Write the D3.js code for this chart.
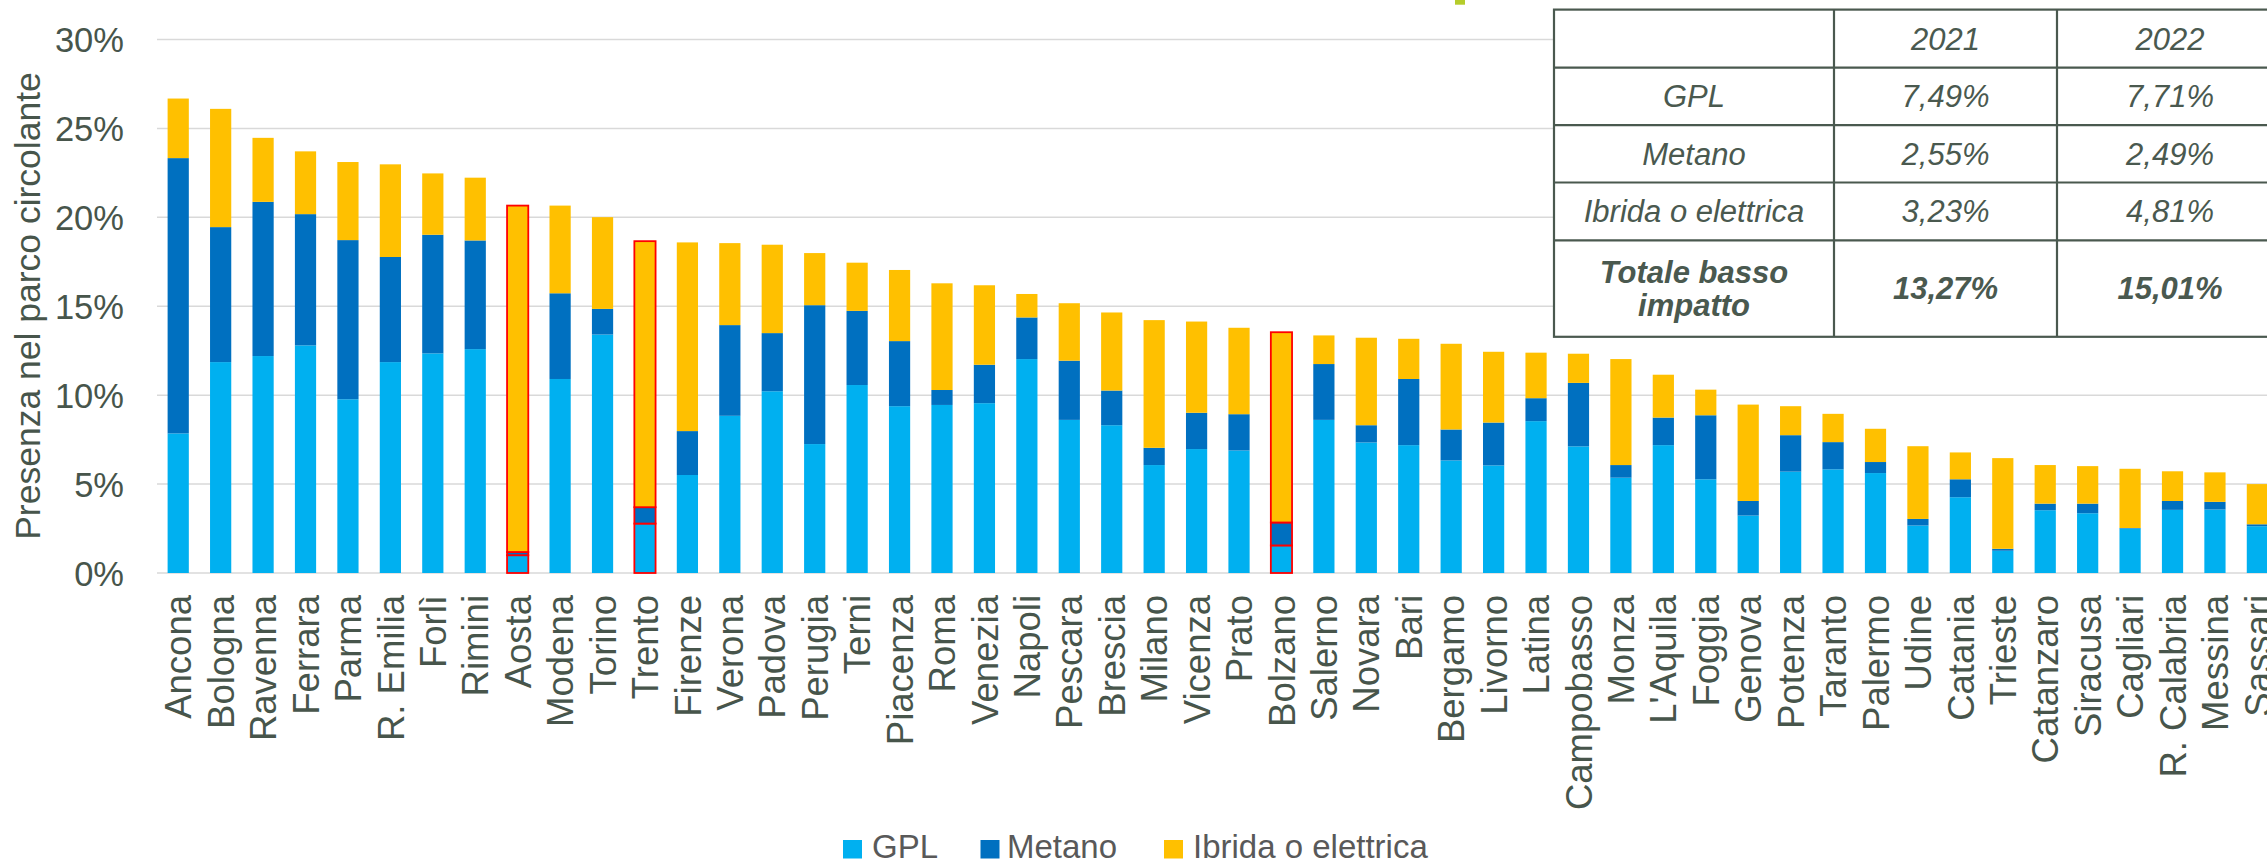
<!DOCTYPE html>
<html>
<head>
<meta charset="utf-8">
<script src="https://cdn.jsdelivr.net/npm/d3@7"></script>
<style>
  html, body { margin: 0; padding: 0; background: #ffffff; overflow: hidden; }
  svg { display: block; font-family: "Liberation Sans", Arial, Helvetica, sans-serif; }
</style>
</head>
<body>
<svg id="chart" width="2267" height="865"></svg>
<script>
// ---------- DATA ----------
const categories = ["Ancona","Bologna","Ravenna","Ferrara","Parma","R. Emilia","Forlì","Rimini","Aosta","Modena",
  "Torino","Trento","Firenze","Verona","Padova","Perugia","Terni","Piacenza","Roma","Venezia",
  "Napoli","Pescara","Brescia","Milano","Vicenza","Prato","Bolzano","Salerno","Novara","Bari",
  "Bergamo","Livorno","Latina","Campobasso","Monza","L'Aquila","Foggia","Genova","Potenza","Taranto",
  "Palermo","Udine","Catania","Trieste","Catanzaro","Siracusa","Cagliari","R. Calabria","Messina","Sassari"];

const gpl = [7.85,11.86,12.20,12.80,9.77,11.86,12.35,12.59,1.00,10.91,
  13.41,2.78,5.51,8.84,10.22,7.25,10.57,9.38,9.45,9.55,
  12.03,8.61,8.31,6.07,6.97,6.89,1.55,8.61,7.34,7.19,
  6.33,6.05,8.54,7.12,5.36,7.19,5.27,3.23,5.70,5.83,
  5.62,2.67,4.26,1.25,3.53,3.36,2.50,3.55,3.57,2.63];

const metano = [15.48,7.59,8.67,7.38,8.95,5.91,6.67,6.11,0.18,4.82,
  1.44,0.92,2.47,5.10,3.27,7.81,4.17,3.66,0.84,2.16,
  2.34,3.33,1.95,0.97,2.04,2.04,1.29,3.14,0.97,3.72,
  1.74,2.41,1.29,3.57,0.71,1.55,3.60,0.82,2.05,1.53,
  0.62,0.37,1.01,0.11,0.37,0.54,0.03,0.50,0.43,0.11];

const ibrida = [3.35,6.65,3.60,3.53,4.39,5.21,3.45,3.53,19.48,4.93,
  5.16,14.96,10.61,4.61,4.97,2.93,2.71,4.00,6.00,4.47,
  1.32,3.23,4.39,7.18,5.13,4.86,10.70,1.61,4.92,2.26,
  4.82,3.98,2.56,1.64,5.96,2.41,1.44,5.42,1.63,1.59,
  1.87,4.09,1.51,5.10,2.17,2.11,3.33,1.67,1.66,2.26];

const highlighted = ["Aosta","Trento","Bolzano"];

const seriesNames = ["GPL","Metano","Ibrida o elettrica"];
const seriesColors = ["#00B0F0","#0070C0","#FFC000"];

const yTicks = [0,5,10,15,20,25,30];
const yTitle = "Presenza nel parco circolante";

const tableHeader = ["","2021","2022"];
const tableRowLabels = ["GPL","Metano","Ibrida o elettrica","Totale basso impatto"];
const table2021 = ["7,49%","2,55%","3,23%","13,27%"];
const table2022 = ["7,71%","2,49%","4,81%","15,01%"];

// ---------- LAYOUT ----------
const svg = d3.select("#chart");
const textColor = "#47554b";
const plotLeft = 157, plotRight = 2278.6, yBottom = 573, yTop = 39.5;

const x = d3.scaleBand().domain(categories).range([plotLeft, plotRight]).paddingInner(0.5).paddingOuter(0.25);
const y = d3.scaleLinear().domain([0, 30]).range([yBottom, yTop]);

// gridlines
svg.append("g").selectAll("line").data(yTicks).join("line")
  .attr("x1", plotLeft).attr("x2", 2267)
  .attr("y1", d => y(d)).attr("y2", d => y(d))
  .attr("stroke", "#d9d9d9").attr("stroke-width", 1.5);

// y tick labels
const yAxis = d3.axisLeft(y).tickValues(yTicks).tickFormat(d => d + "%").tickSize(0).tickPadding(0);
const gy = svg.append("g").attr("transform", "translate(124,0)").call(yAxis);
gy.select(".domain").remove();
gy.selectAll("text").attr("font-size", 34.5).attr("fill", textColor)
  .attr("font-family", "'Liberation Sans', Arial, sans-serif").attr("dy", "0.35em");

// y title
svg.append("text")
  .attr("transform", "translate(40," + 306 + ") rotate(-90)")
  .attr("text-anchor", "middle").attr("font-size", 35.5).attr("fill", textColor)
  .text(yTitle);

// stacked data
const rows = categories.map((c, i) => ({ cat: c, GPL: gpl[i], Metano: metano[i], "Ibrida o elettrica": ibrida[i] }));
const stack = d3.stack().keys(seriesNames)(rows);

const layers = svg.append("g").selectAll("g").data(stack).join("g")
  .attr("fill", (d, i) => seriesColors[i]);
layers.selectAll("rect").data(d => d).join("rect")
  .attr("x", d => x(d.data.cat))
  .attr("width", x.bandwidth())
  .attr("y", d => y(d[1]))
  .attr("height", d => Math.max(0, y(d[0]) - y(d[1])))
  .attr("stroke", d => highlighted.includes(d.data.cat) ? "#ff0000" : "none")
  .attr("stroke-width", d => highlighted.includes(d.data.cat) ? 1.8 : 0);

// x labels
const xAxis = d3.axisBottom(x).tickSize(0).tickPadding(0);
const gx = svg.append("g").attr("transform", "translate(0,595)").call(xAxis);
gx.select(".domain").remove();
gx.selectAll("text")
  .attr("transform", "rotate(-90)")
  .attr("text-anchor", "end")
  .attr("x", 0).attr("y", 0).attr("dy", "0.36em")
  .attr("font-size", 36.5).attr("fill", textColor)
  .attr("font-family", "'Liberation Sans', Arial, sans-serif");

// legend
const legendItems = [
  { name: seriesNames[0], color: seriesColors[0], sx: 843, tx: 872 },
  { name: seriesNames[1], color: seriesColors[1], sx: 980.5, tx: 1007 },
  { name: seriesNames[2], color: seriesColors[2], sx: 1164, tx: 1193 }
];
const lg = svg.append("g");
lg.selectAll("rect").data(legendItems).join("rect")
  .attr("x", d => d.sx).attr("y", 840).attr("width", 19).attr("height", 18.5)
  .attr("fill", d => d.color);
lg.selectAll("text").data(legendItems).join("text")
  .attr("x", d => d.tx).attr("y", 858.3)
  .attr("font-size", 33).attr("fill", "#595959")
  .text(d => d.name);

// small green mark at top (artifact from slide)
svg.append("rect").attr("x", 1455).attr("y", 0).attr("width", 10).attr("height", 4.7).attr("fill", "#b5cc2a");

// ---------- TABLE ----------
const colX = [1554, 1834, 2057, 2283];
const rowY = [9.6, 67.7, 125.1, 182.5, 240.3, 336.8];
const tColor = "#4a594f";
const tg = svg.append("g");
tg.append("rect").attr("x", colX[0]).attr("y", rowY[0])
  .attr("width", colX[3] - colX[0]).attr("height", rowY[5] - rowY[0])
  .attr("fill", "#ffffff").attr("stroke", tColor).attr("stroke-width", 2.2);
tg.selectAll("line.h").data(rowY.slice(1, 5)).join("line").attr("class", "h")
  .attr("x1", colX[0]).attr("x2", colX[3]).attr("y1", d => d).attr("y2", d => d)
  .attr("stroke", tColor).attr("stroke-width", 2.2);
tg.selectAll("line.v").data(colX.slice(1, 3)).join("line").attr("class", "v")
  .attr("x1", d => d).attr("x2", d => d).attr("y1", rowY[0]).attr("y2", rowY[5])
  .attr("stroke", tColor).attr("stroke-width", 2.2);

const colC = [0, 1, 2].map(i => (colX[i] + colX[i + 1]) / 2);
const rowC = [0, 1, 2, 3, 4].map(i => (rowY[i] + rowY[i + 1]) / 2);

function cell(txt, cx, cy, bold) {
  tg.append("text").attr("x", cx).attr("y", cy).attr("dy", "0.35em")
    .attr("text-anchor", "middle").attr("font-size", 31).attr("font-style", "italic")
    .attr("font-weight", bold ? "bold" : "normal").attr("fill", tColor).text(txt);
}
cell(tableHeader[1], colC[1], rowC[0], false);
cell(tableHeader[2], colC[2], rowC[0], false);
for (let r = 0; r < 4; r++) {
  const bold = r === 3;
  if (r < 3) {
    cell(tableRowLabels[r], colC[0], rowC[r + 1], false);
  } else {
    const words = tableRowLabels[r].split(" ");
    cell(words.slice(0, 2).join(" "), colC[0], rowC[r + 1] - 16.5, true);
    cell(words.slice(2).join(" "), colC[0], rowC[r + 1] + 16.5, true);
  }
  cell(table2021[r], colC[1], rowC[r + 1], bold);
  cell(table2022[r], colC[2], rowC[r + 1], bold);
}
</script>
</body>
</html>
